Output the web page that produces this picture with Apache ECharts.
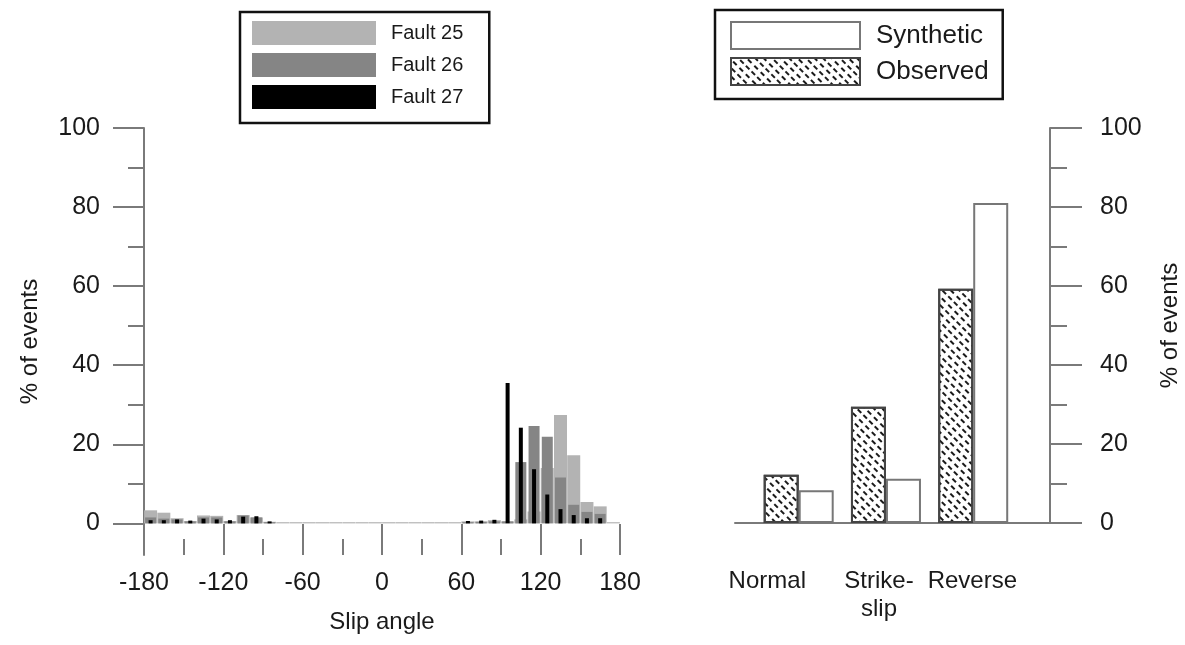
<!DOCTYPE html>
<html>
<head>
<meta charset="utf-8">
<script src="https://cdn.jsdelivr.net/npm/echarts@6/dist/echarts.min.js"></script>
<style>
  html, body { margin: 0; padding: 0; background: #fff; }
  #main { width: 1185px; height: 645px; }
</style>
</head>
<body>
<div id="main"></div>
<script>
// slip angle bins (centres, degrees)
var binCentres = [-175, -165, -155, -145, -135, -125, -115, -105, -95, -85, -75, -65,
                  -55, -45, -35, -25, -15, -5, 5, 15, 25, 35, 45, 55,
                  65, 75, 85, 95, 105, 115, 125, 135, 145, 155, 165, 175];
var fault25 = [3.3, 2.7, 1.3, 0.6, 2.0, 1.9, 0.6, 2.1, 1.5, 0.4, 0.3, 0.3,
               0.3, 0.3, 0.3, 0.3, 0.3, 0.3, 0.3, 0.3, 0.3, 0.3, 0.3, 0.3,
               0.5, 0.5, 0.8, 0.5, 1.0, 3.0, 14, 27.4, 17.2, 5.4, 4.3, 0.3];
var fault26 = [1.5, 1.2, 1.0, 0.5, 1.5, 1.5, 0.5, 2.0, 1.5, 0.3, 0, 0,
               0, 0, 0, 0, 0, 0, 0, 0, 0, 0, 0, 0,
               0.3, 0.4, 0.5, 0.5, 15.5, 24.6, 21.9, 11.6, 4.7, 2.9, 2.4, 0];
var fault27 = [0.8, 0.8, 1.0, 0.7, 1.2, 1.0, 0.8, 1.7, 1.8, 0.5, 0, 0,
               0, 0, 0, 0, 0, 0, 0, 0, 0, 0, 0, 0,
               0.6, 0.7, 0.9, 35.5, 24.2, 13.7, 7.3, 3.6, 2.1, 1.3, 1.3, 0];

// mechanism comparison
var mechanisms = ['Normal', 'Strike-\nslip', 'Reverse'];
var observed = [12.2, 29.4, 59.3];
var synthetic = [8.3, 11.2, 81];

var yMajor = [0, 20, 40, 60, 80, 100];
var yMinor = [10, 30, 50, 70, 90];

function pairs(xs, ys) {
  return xs.map(function (x, i) { return [x, ys[i]]; });
}

var myChart = echarts.init(document.getElementById('main'));
var FONT = 'Liberation Sans';
var TXT = '#1a1a1a';
var AX = '#7a7a7a';

function slipAxis(show) {
  return {
    type: 'value', gridIndex: 0, min: -180, max: 180, interval: 60,
    show: show,
    axisLine: { show: false, onZero: false },
    axisTick: { show: true, inside: true, length: 31, lineStyle: { color: AX, width: 2 } },
    minorTick: { show: true, splitNumber: 2, length: 16, lineStyle: { color: AX, width: 2 } },
    splitLine: { show: false },
    axisLabel: { margin: 16, fontSize: 25, color: TXT, fontFamily: FONT },
    name: show ? 'Slip angle' : '',
    nameLocation: 'middle', nameGap: 55,
    nameTextStyle: { fontSize: 24, color: TXT, fontFamily: FONT }
  };
}

var option = {
  animation: false,
  backgroundColor: '#fff',
  textStyle: { fontFamily: FONT },
  grid: [
    { left: 144, right: 565, top: 128, bottom: 90 },
    { left: 735, right: 135, top: 128, bottom: 122 }
  ],
  legend: [
    {
      data: ['Fault 25', 'Fault 26', 'Fault 27'],
      orient: 'vertical', left: 240, top: 12,
      itemWidth: 124, itemHeight: 24, itemGap: 8,
      padding: [9, 26, 14, 12],
      borderColor: '#111', borderWidth: 2.5,
      icon: 'rect',
      textStyle: { fontSize: 20, color: TXT, fontFamily: FONT, padding: [0, 0, 0, 10] }
    },
    {
      data: ['Synthetic', 'Observed'],
      orient: 'vertical', left: 715, top: 10,
      itemWidth: 129, itemHeight: 27, itemGap: 7,
      padding: [11, 14, 13, 15],
      borderColor: '#111', borderWidth: 2.5,
      icon: 'rect',
      textStyle: { fontSize: 26, color: TXT, fontFamily: FONT, padding: [0, 0, 0, 11] }
    }
  ],
  xAxis: [
    slipAxis(true),
    slipAxis(false),
    slipAxis(false),
    {
      type: 'value', gridIndex: 1, min: 0.27, max: 3.88,
      axisLine: { show: true, onZero: false, lineStyle: { color: AX, width: 2 } },
      axisTick: { show: false },
      splitLine: { show: false },
      axisLabel: {
        customValues: [0.64, 1.92, 2.99],
        margin: 44, fontSize: 24, lineHeight: 28, color: TXT, fontFamily: FONT,
        formatter: function (v) { return mechanisms[Math.round(v) - 1]; }
      }
    }
  ],
  yAxis: [
    {
      type: 'value', gridIndex: 0, position: 'left', min: -8, max: 100,
      axisLine: { show: true, onZero: false, lineStyle: { color: AX, width: 2 } },
      axisTick: { show: true, length: 31, customValues: yMajor, lineStyle: { color: AX, width: 2 } },
      axisLabel: { customValues: yMajor, margin: 44, fontSize: 25, color: TXT, fontFamily: FONT },
      splitLine: { show: false },
      name: '% of events', nameLocation: 'middle', nameGap: 102,
      nameTextStyle: { fontSize: 24, color: TXT, fontFamily: FONT }
    },
    {
      type: 'value', gridIndex: 0, position: 'left', min: -8, max: 100,
      axisLine: { show: false, onZero: false },
      axisTick: { show: true, length: 16, customValues: yMinor, lineStyle: { color: AX, width: 2 } },
      axisLabel: { show: false },
      splitLine: { show: false }
    },
    {
      type: 'value', gridIndex: 1, position: 'right', min: 0, max: 100, interval: 20,
      axisLine: { show: true, onZero: false, lineStyle: { color: AX, width: 2 } },
      axisTick: { show: true, length: 32, lineStyle: { color: AX, width: 2 } },
      minorTick: { show: true, splitNumber: 2, length: 17, lineStyle: { color: AX, width: 2 } },
      axisLabel: { margin: 50, fontSize: 25, color: TXT, fontFamily: FONT },
      splitLine: { show: false },
      name: '% of events', nameLocation: 'middle', nameGap: 108,
      nameTextStyle: { fontSize: 24, color: TXT, fontFamily: FONT }
    }
  ],
  series: [
    {
      name: 'Fault 25', type: 'bar', xAxisIndex: 0, yAxisIndex: 0,
      barWidth: 13, itemStyle: { color: '#b3b3b3' },
      data: pairs(binCentres, fault25)
    },
    {
      name: 'Fault 26', type: 'bar', xAxisIndex: 1, yAxisIndex: 0,
      barWidth: 11, itemStyle: { color: '#858585' },
      data: pairs(binCentres, fault26)
    },
    {
      name: 'Fault 27', type: 'bar', xAxisIndex: 2, yAxisIndex: 0,
      barWidth: 4, itemStyle: { color: '#000' },
      data: pairs(binCentres, fault27)
    },
    {
      name: 'Observed', type: 'bar', xAxisIndex: 3, yAxisIndex: 2,
      barWidth: 35, barGap: '0%',
      itemStyle: {
        color: '#fff', borderColor: '#444', borderWidth: 2,
        decal: {
          symbol: 'rect', color: '#1a1a1a', symbolSize: 1,
          dashArrayX: [[5, 3], [0, 4, 5, 0]], dashArrayY: [2, 3.5],
          rotation: Math.PI / 4
        }
      },
      data: pairs([1, 2, 3], observed)
    },
    {
      name: 'Synthetic', type: 'bar', xAxisIndex: 3, yAxisIndex: 2,
      barWidth: 35, barGap: '0%',
      itemStyle: { color: '#fff', borderColor: '#777', borderWidth: 2 },
      data: pairs([1, 2, 3], synthetic)
    }
  ]
};

myChart.setOption(option);
</script>
</body>
</html>
